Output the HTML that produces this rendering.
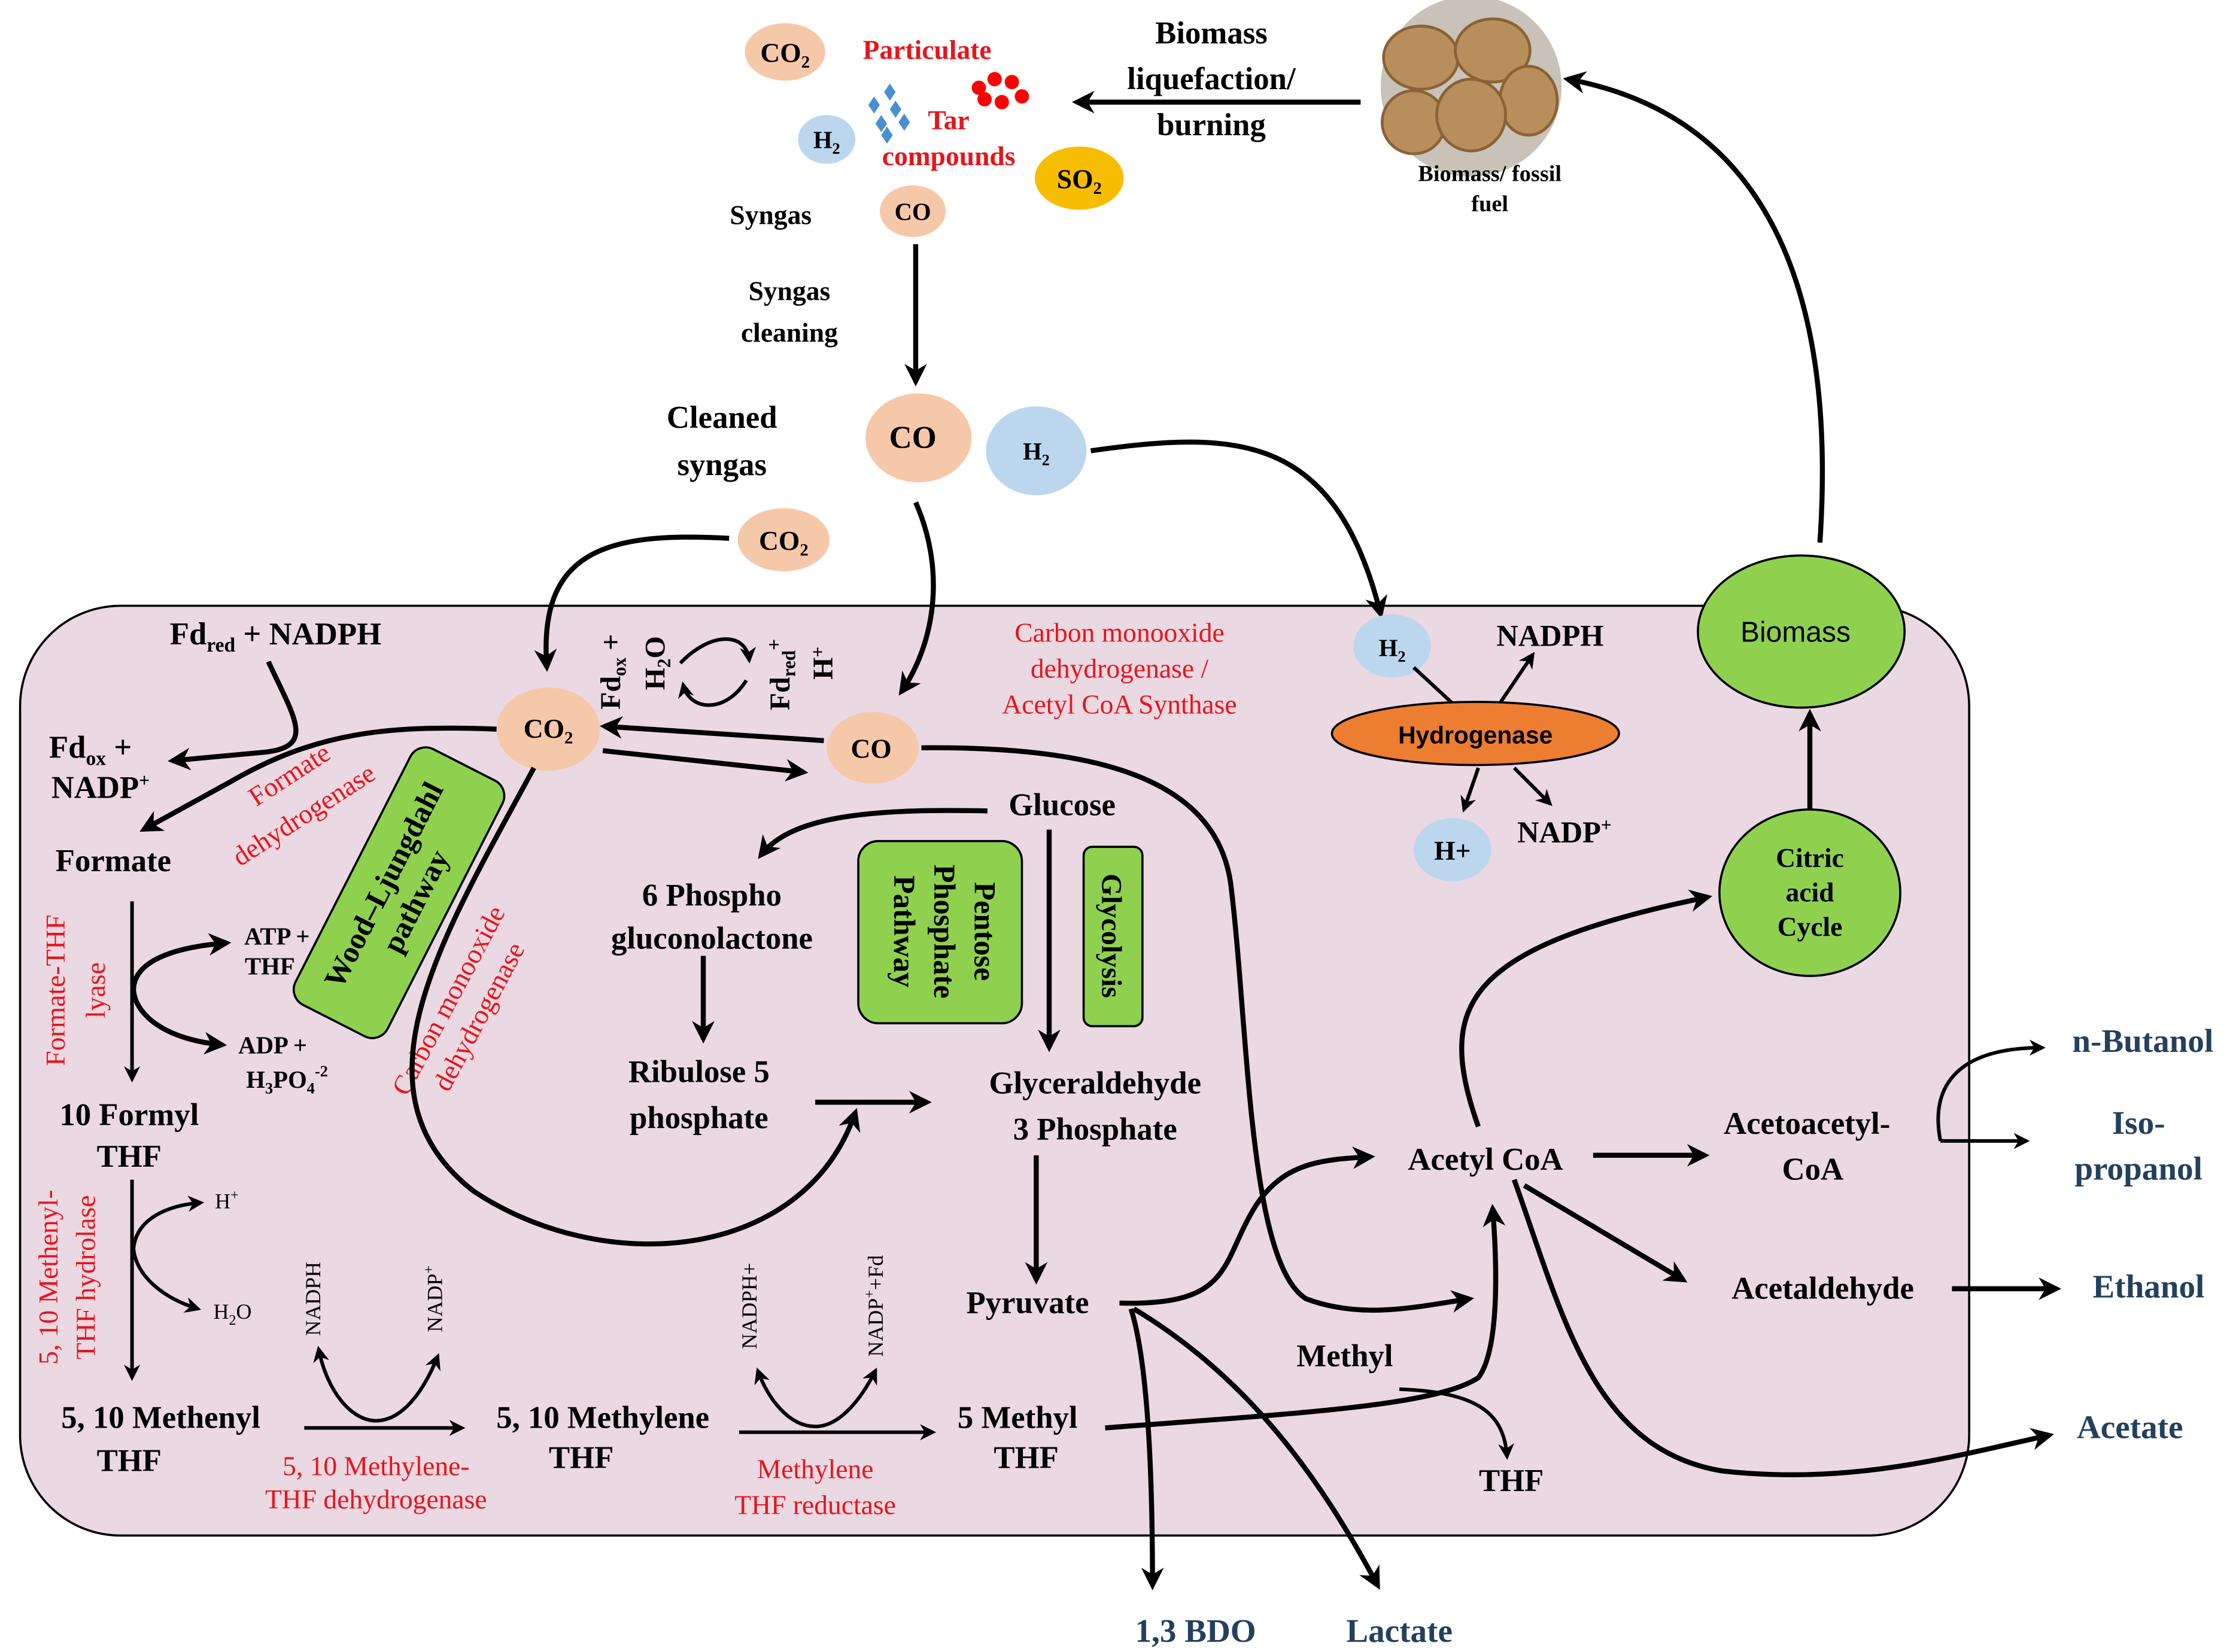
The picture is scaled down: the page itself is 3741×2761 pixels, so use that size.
<!DOCTYPE html>
<html><head><meta charset="utf-8"><style>
html,body{margin:0;padding:0;background:#fff;}
svg{display:block;}
text{font-family:"Liberation Serif",serif;font-weight:bold;}
.b{font-size:22px;fill:#000;text-anchor:middle;}
.s{font-size:17px;fill:#000;text-anchor:middle;}
.r{font-size:19px;fill:#e8141b;text-anchor:middle;font-weight:normal;}
.p{font-size:23px;fill:#23405f;text-anchor:middle;}
.ln{fill:none;stroke:#000;stroke-width:3.5;}
.th{fill:none;stroke:#000;stroke-width:2.5;}
</style></head><body>
<svg width="3741" height="2761" viewBox="0 0 1560 1151" xmlns="http://www.w3.org/2000/svg">
<defs>
<marker id="a" viewBox="0 0 10 10" refX="8" refY="5" markerWidth="4.5" markerHeight="4.5" orient="auto-start-reverse" markerUnits="strokeWidth">
<path d="M0,0 L10,5 L0,10 L3,5 z" fill="#000"/></marker>
</defs>
<rect width="1560" height="1151" fill="#fff"/>
<rect x="14" y="422" width="1358" height="648" rx="70" fill="#ead8e2" stroke="#000" stroke-width="1.5"/>

<ellipse cx="547" cy="36" rx="28" ry="20" fill="#f6c8aa"/>
<text class="s" x="547" y="43" style="font-size:19px">CO<tspan font-size="12" dy="4">2</tspan></text>
<text class="r" x="646" y="41" style="font-weight:bold">Particulate</text>
<g fill="#f00"><circle cx="682" cy="61" r="5"/><circle cx="693" cy="55" r="5"/><circle cx="705" cy="57" r="5"/><circle cx="686" cy="69" r="5"/><circle cx="698" cy="71" r="5"/><circle cx="712" cy="67" r="5"/></g>
<g fill="#4a90d0"><path d="M620,58 l4,6 -4,6 -4,-6z"/><path d="M609,67 l4,6 -4,6 -4,-6z"/><path d="M624,70 l4,6 -4,6 -4,-6z"/><path d="M630,79 l4,6 -4,6 -4,-6z"/><path d="M614,80 l4,6 -4,6 -4,-6z"/><path d="M618,88 l4,6 -4,6 -4,-6z"/></g>
<text class="r" x="661" y="90" style="font-weight:bold">Tar</text>
<text class="r" x="661" y="115" style="font-weight:bold">compounds</text>
<ellipse cx="576" cy="97" rx="20" ry="17" fill="#bcd6ee"/>
<text class="s" x="576" y="103">H<tspan font-size="11" dy="4">2</tspan></text>
<ellipse cx="752" cy="124" rx="31" ry="22" fill="#f7bd00"/>
<text class="s" x="752" y="131" style="font-size:19px">SO<tspan font-size="12" dy="4">2</tspan></text>
<text class="s" x="537" y="156" style="font-size:19px">Syngas</text>
<ellipse cx="636" cy="147" rx="23" ry="18" fill="#f6c8aa"/>
<text class="s" x="636" y="153">CO</text>
<path class="ln" d="M638,170 L638,266" marker-end="url(#a)"/>
<text class="s" x="550" y="209" style="font-size:19px">Syngas</text>
<text class="s" x="550" y="238" style="font-size:19px">cleaning</text>
<text class="b" x="503" y="298">Cleaned</text>
<text class="b" x="503" y="331">syngas</text>
<ellipse cx="640" cy="305" rx="37" ry="31" fill="#f6c8aa"/>
<text class="b" x="636" y="312">CO</text>
<ellipse cx="722" cy="314" rx="35" ry="31" fill="#bcd6ee"/>
<text class="s" x="722" y="320">H<tspan font-size="11" dy="4">2</tspan></text>
<text class="b" x="844" y="30">Biomass</text>
<text class="b" x="844" y="62">liquefaction/</text>
<text class="b" x="844" y="94">burning</text>
<path class="ln" d="M948,71 L750,71" marker-end="url(#a)"/>
<circle cx="1025" cy="60" r="63" fill="#c9c2b8"/>
<g fill="#b88f5c" stroke="#8a6236" stroke-width="2">
<ellipse cx="990" cy="40" rx="26" ry="22"/><ellipse cx="1040" cy="35" rx="26" ry="22"/><ellipse cx="1065" cy="70" rx="20" ry="24"/>
<ellipse cx="985" cy="85" rx="22" ry="22"/><ellipse cx="1025" cy="80" rx="24" ry="25"/></g>
<text class="s" x="1038" y="126" style="font-size:16px">Biomass/  fossil</text>
<text class="s" x="1038" y="147" style="font-size:16px">fuel</text>
<path class="ln" d="M1268,378 C1280,200 1230,80 1092,55" marker-end="url(#a)"/>
<path class="ln" d="M760,314 C860,300 930,300 962,428" marker-end="url(#a)"/>
<ellipse cx="546" cy="376" rx="32" ry="22" fill="#f6c8aa"/>
<text class="s" x="546" y="383" style="font-size:19px">CO<tspan font-size="12" dy="4">2</tspan></text>
<path class="ln" d="M508,375 C420,370 375,385 381,465" marker-end="url(#a)"/>
<path class="ln" d="M638,350 C660,400 650,450 628,482" marker-end="url(#a)"/>

<text class="b" x="192" y="449">Fd<tspan font-size="14" dy="5">red</tspan><tspan dy="-5"> + NADPH</tspan></text>
<path class="ln" d="M187,461 C205,500 220,520 185,524 L120,530" marker-end="url(#a)"/>
<text class="b" x="63" y="528">Fd<tspan font-size="14" dy="5">ox</tspan><tspan dy="-5"> +</tspan></text>
<text class="b" x="70" y="556">NADP<tspan font-size="13" dy="-8">+</tspan></text>
<path class="ln" d="M346,508 C270,505 220,510 160,545 L100,578" marker-end="url(#a)"/>
<text class="b" x="79" y="607">Formate</text>
<text class="r" transform="translate(205,545) rotate(-33)" x="0" y="0">Formate</text>
<text class="r" transform="translate(215,573) rotate(-33)" x="0" y="0">dehydrogenase</text>
<g transform="translate(278,622) rotate(-63)">
<rect x="-100" y="-36" width="200" height="72" rx="12" fill="#8fd14f" stroke="#000" stroke-width="1.5"/>
<text class="b" x="0" y="-5" style="font-size:21px">Wood–Ljungdahl</text>
<text class="b" x="0" y="20" style="font-size:21px">pathway</text></g>
<ellipse cx="382" cy="508" rx="36" ry="29" fill="#f6c8aa"/>
<text class="s" x="382" y="514" style="font-size:19px">CO<tspan font-size="12" dy="4">2</tspan></text>
<ellipse cx="608" cy="521" rx="32" ry="25" fill="#f6c8aa"/>
<text class="s" x="607" y="528" style="font-size:19px">CO</text>
<path class="ln" d="M574,516 L421,506" marker-end="url(#a)"/>
<path class="ln" d="M420,523 L560,538" marker-end="url(#a)"/>
<g transform="translate(432,468) rotate(-90)"><text class="s" x="0" y="0" style="font-size:20px">Fd<tspan font-size="13" dy="4">ox</tspan><tspan dy="-4"> +</tspan></text></g>
<g transform="translate(463,462) rotate(-90)"><text class="s" x="0" y="0" style="font-size:20px">H<tspan font-size="13" dy="4">2</tspan><tspan dy="-4">O</tspan></text></g>
<g transform="translate(550,470) rotate(-90)"><text class="s" x="0" y="0" style="font-size:20px">Fd<tspan font-size="13" dy="4">red</tspan><tspan dy="-10" font-size="14">+</tspan></text></g>
<g transform="translate(580,462) rotate(-90)"><text class="s" x="0" y="0" style="font-size:20px">H<tspan font-size="13" dy="-6">+</tspan></text></g>
<path class="th" d="M474,462 C495,440 520,440 522,460" marker-end="url(#a)"/>
<path class="th" d="M520,474 C505,498 480,495 476,477" marker-end="url(#a)"/>
<text class="r" x="780" y="447">Carbon monooxide</text>
<text class="r" x="780" y="472">dehydrogenase /</text>
<text class="r" x="780" y="497">Acetyl CoA Synthase</text>
<g transform="translate(318,700) rotate(-62)"><text class="r" x="0" y="0">Carbon monooxide</text><text class="r" x="0" y="24">dehydrogenase</text></g>
<path class="ln" d="M372,535 C310,650 240,760 330,830 C420,890 560,880 596,775" marker-end="url(#a)"/>

<text class="b" x="740" y="568">Glucose</text>
<path class="ln" d="M688,565 C600,563 550,570 530,596" marker-end="url(#a)"/>
<text class="b" x="496" y="631">6 Phospho</text>
<text class="b" x="496" y="661">gluconolactone</text>
<path class="ln" d="M490,666 L490,724" marker-end="url(#a)"/>
<rect x="598" y="586" width="114" height="127" rx="14" fill="#8fd14f" stroke="#000" stroke-width="1.5"/>
<g transform="translate(655,649) rotate(90)"><text class="b" x="0" y="-24" style="font-size:21px">Pentose</text><text class="b" x="0" y="4" style="font-size:21px">Phosphate</text><text class="b" x="0" y="32" style="font-size:21px">Pathway</text></g>
<rect x="755" y="590" width="41" height="125" rx="6" fill="#8fd14f" stroke="#000" stroke-width="1.5"/>
<g transform="translate(775,652) rotate(90)"><text class="b" x="0" y="7" style="font-size:20px">Glycolysis</text></g>
<path class="ln" d="M731,578 L731,730" marker-end="url(#a)"/>
<text class="b" x="487" y="754">Ribulose 5</text>
<text class="b" x="487" y="786">phosphate</text>
<path class="ln" d="M568,768 L646,768" marker-end="url(#a)"/>
<text class="b" x="763" y="762">Glyceraldehyde</text>
<text class="b" x="763" y="794">3 Phosphate</text>
<path class="ln" d="M722,805 L722,892" marker-end="url(#a)"/>
<text class="b" x="716" y="915">Pyruvate</text>

<path class="ln" d="M642,521 C760,520 850,540 858,620 C870,720 870,880 910,905 C950,920 990,910 1024,905" marker-end="url(#a)"/>
<text class="b" x="937" y="952">Methyl</text>
<path class="ln" d="M780,908 C860,910 850,880 875,840 C895,810 920,808 955,806" marker-end="url(#a)"/>
<path class="ln" d="M788,912 C800,950 803,1030 803,1105" marker-end="url(#a)"/>
<path class="ln" d="M790,912 C870,960 920,1030 960,1105" marker-end="url(#a)"/>
<path class="ln" d="M770,995 C900,985 1000,980 1030,960 C1045,940 1043,880 1040,842" marker-end="url(#a)"/>
<path class="th" d="M975,968 C1030,970 1048,985 1050,1015" marker-end="url(#a)"/>
<text class="b" x="1053" y="1039">THF</text>
<text class="b" x="1035" y="815">Acetyl CoA</text>
<path class="ln" d="M1110,805 L1188,805" marker-end="url(#a)"/>
<text class="b" x="1259" y="790">Acetoacetyl-</text>
<text class="b" x="1263" y="822">CoA</text>
<path class="th" d="M1352,795 C1345,760 1360,730 1423,730" marker-end="url(#a)"/>
<path class="th" d="M1352,795 L1412,795" marker-end="url(#a)"/>
<text class="p" x="1493" y="733">n-Butanol</text>
<text class="p" x="1490" y="790">Iso-</text>
<text class="p" x="1490" y="822">propanol</text>
<path class="ln" d="M1062,826 L1173,892" marker-end="url(#a)"/>
<text class="b" x="1270" y="905">Acetaldehyde</text>
<path class="ln" d="M1360,898 L1433,898" marker-end="url(#a)"/>
<text class="p" x="1497" y="904">Ethanol</text>
<path class="ln" d="M1055,822 C1090,920 1110,1010 1200,1025 C1290,1035 1360,1015 1428,1000" marker-end="url(#a)"/>
<text class="p" x="1484" y="1002">Acetate</text>
<path class="ln" d="M1030,785 C1000,700 1020,660 1190,625" marker-end="url(#a)"/>
<ellipse cx="1261" cy="622" rx="63" ry="58" fill="#8fd14f" stroke="#000" stroke-width="1.5"/>
<text class="s" x="1261" y="604" style="font-size:19px">Citric</text>
<text class="s" x="1261" y="628" style="font-size:19px">acid</text>
<text class="s" x="1261" y="652" style="font-size:19px">Cycle</text>
<path class="ln" d="M1261,564 L1261,497" marker-end="url(#a)"/>
<ellipse cx="1255" cy="440" rx="72" ry="53" fill="#8fd14f" stroke="#000" stroke-width="1.5"/>
<text x="1251" y="447" style="font-family:'Liberation Sans',sans-serif;font-weight:normal;font-size:20px;text-anchor:middle">Biomass</text>
<ellipse cx="970" cy="450" rx="27" ry="22" fill="#bcd6ee"/>
<text class="s" x="970" y="457">H<tspan font-size="11" dy="4">2</tspan></text>
<path class="th" d="M985,465 L1012,490"/>
<path class="th" d="M1045,490 L1068,456" marker-end="url(#a)"/>
<text class="b" x="1080" y="450" style="font-size:21px">NADPH</text>
<ellipse cx="1028" cy="511" rx="100" ry="22" fill="#ed7d31" stroke="#000" stroke-width="1.5"/>
<text x="1028" y="518" style="font-family:'Liberation Sans',sans-serif;font-size:17px;text-anchor:middle">Hydrogenase</text>
<path class="th" d="M1030,535 L1020,564" marker-end="url(#a)"/>
<path class="th" d="M1055,535 L1080,560" marker-end="url(#a)"/>
<ellipse cx="1012" cy="592" rx="27" ry="22" fill="#bcd6ee"/>
<text class="s" x="1012" y="599" style="font-size:19px">H+</text>
<text class="b" x="1090" y="587" style="font-size:21px">NADP<tspan font-size="13" dy="-8">+</tspan></text>

<path class="th" d="M92,628 L92,752" marker-end="url(#a)"/>
<g transform="translate(45,690) rotate(-90)"><text class="r" x="0" y="0">Formate-THF</text><text class="r" x="0" y="28">lyase</text></g>
<path class="ln" d="M93,690 C93,670 120,660 158,657" marker-end="url(#a)"/>
<path class="ln" d="M93,690 C95,710 120,725 155,728" marker-end="url(#a)"/>
<text class="s" x="193" y="658">ATP +</text>
<text class="s" x="188" y="679">THF</text>
<text class="s" x="190" y="734">ADP +</text>
<text class="s" x="200" y="758">H<tspan font-size="11" dy="4">3</tspan><tspan dy="-4">PO</tspan><tspan font-size="11" dy="4">4</tspan><tspan font-size="11" dy="-12">-2</tspan></text>
<text class="b" x="90" y="784">10 Formyl</text>
<text class="b" x="90" y="813">THF</text>
<path class="th" d="M92,822 L92,960" marker-end="url(#a)"/>
<g transform="translate(40,890) rotate(-90)"><text class="r" x="0" y="0">5, 10 Methenyl-</text><text class="r" x="0" y="26">THF hydrolase</text></g>
<path class="th" d="M93,870 C95,850 115,840 140,838" marker-end="url(#a)"/>
<path class="th" d="M93,870 C95,890 115,905 138,912" marker-end="url(#a)"/>
<text class="s" x="158" y="842" style="font-weight:normal;font-size:15px">H<tspan font-size="10" dy="-6">+</tspan></text>
<text class="s" x="162" y="919" style="font-weight:normal;font-size:15px">H<tspan font-size="10" dy="4">2</tspan><tspan dy="-4">O</tspan></text>
<text class="b" x="112" y="995">5, 10 Methenyl</text>
<text class="b" x="90" y="1025">THF</text>
<path class="th" d="M212,995 L322,995" marker-end="url(#a)"/>
<g transform="translate(223,905) rotate(-90)"><text class="s" x="0" y="0" style="font-weight:normal;font-size:15px">NADPH</text></g>
<g transform="translate(308,905) rotate(-90)"><text class="s" x="0" y="0" style="font-weight:normal;font-size:15px">NADP<tspan font-size="10" dy="-6">+</tspan></text></g>
<path class="th" d="M262,990 C245,990 228,970 222,940" marker-end="url(#a)"/>
<path class="th" d="M262,990 C280,990 295,970 305,945" marker-end="url(#a)"/>
<text class="r" x="262" y="1028">5, 10 Methylene-</text>
<text class="r" x="262" y="1051">THF dehydrogenase</text>
<text class="b" x="420" y="995">5, 10 Methylene</text>
<text class="b" x="405" y="1023">THF</text>
<path class="th" d="M515,998 L650,998" marker-end="url(#a)"/>
<g transform="translate(527,910) rotate(-90)"><text class="s" x="0" y="0" style="font-weight:normal;font-size:15px">NADPH+</text></g>
<g transform="translate(615,910) rotate(-90)"><text class="s" x="0" y="0" style="font-weight:normal;font-size:15px">NADP<tspan font-size="10" dy="-6">+</tspan><tspan dy="6">+Fd</tspan></text></g>
<path class="th" d="M568,994 C550,994 535,975 528,955" marker-end="url(#a)"/>
<path class="th" d="M568,994 C585,994 600,975 610,955" marker-end="url(#a)"/>
<text class="r" x="568" y="1030">Methylene</text>
<text class="r" x="568" y="1055">THF reductase</text>
<text class="b" x="709" y="995">5 Methyl</text>
<text class="b" x="715" y="1023">THF</text>
<text class="p" x="833" y="1144">1,3 BDO</text>
<text class="p" x="975" y="1144">Lactate</text>
</svg>
</body></html>
